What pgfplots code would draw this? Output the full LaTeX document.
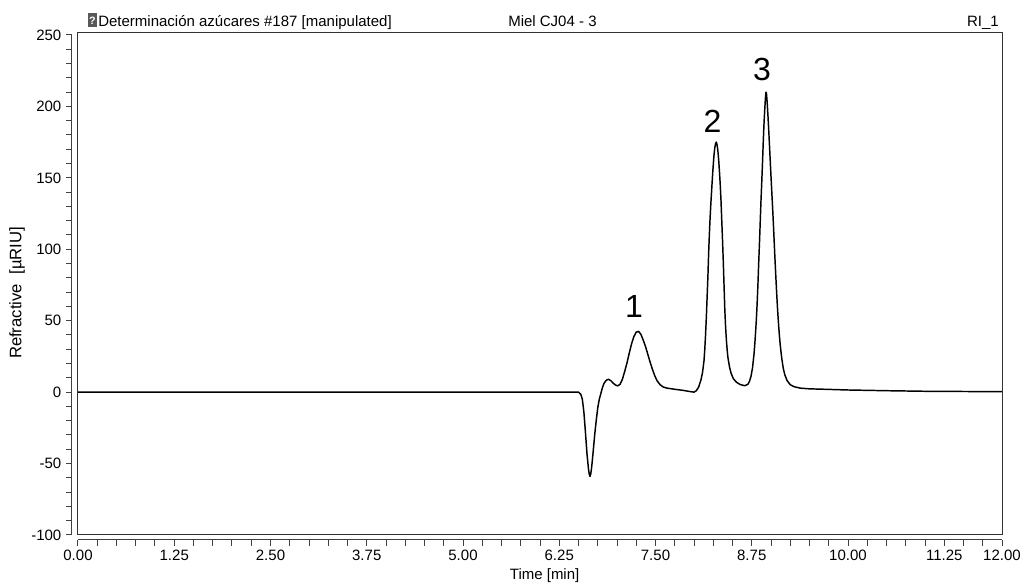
\documentclass[border=0pt]{standalone}
\usepackage{pgfplots}
\pgfplotsset{compat=1.18}
\usepackage{fontspec}
\setmainfont{Liberation Sans}

\begin{document}
\begin{tikzpicture}
\begin{axis}[
  at={(0,0)}, anchor=south west,
  scale only axis, width=693pt, height=375pt,
  xmin=0, xmax=12, ymin=-100, ymax=250,
  axis lines*=left,
  axis x line shift=3.4pt, axis y line shift=4.5pt,
  axis line style={black!75, line width=0.75pt},
  tick align=outside,
  major tick length=4.5pt, minor tick length=4.5pt,
  tick style={black!75, line width=0.75pt},
  xtick={0,1.25,2.5,3.75,5,6.25,7.5,8.75,10,11.25,12},
  minor xtick={0,0.25,...,12},
  ytick={-100,-50,...,250}, minor y tick num=4,
  xticklabel style={/pgf/number format/.cd, fixed, fixed zerofill, precision=2},
  yticklabel style={/pgf/number format/fixed},
  /pgf/number format/assume math mode=true,
  ticklabel style={font=\fontsize{11.25}{13}\selectfont},
  xlabel={Time [min]},
  ylabel={Refractive\hspace{7pt}[µRIU]},
  xlabel style={font=\fontsize{11.25}{13}\selectfont, at={(axis description cs:0.505,-0.09)}, anchor=base},
  ylabel style={font=\fontsize{12.5}{14}\selectfont, at={(axis description cs:-0.066,0.484)}, anchor=center},
  clip=false,
]
\addplot[black, line width=1.1pt, line join=round] coordinates {
(0,0) (3,0) (6,0) (6.45,0) (6.50,0) (6.53,-1.5) (6.55,-5) (6.57,-14) (6.59,-28)
(6.61,-43) (6.63,-54) (6.64,-57.5) (6.65,-59) (6.66,-57) (6.67,-53) (6.69,-42) (6.71,-30) (6.73,-20)
(6.75,-11) (6.77,-5) (6.79,-1) (6.81,3) (6.83,6) (6.86,8.3) (6.89,9) (6.92,8)
(6.95,6.3) (6.98,5) (7.01,4.4) (7.04,5.5) (7.07,9) (7.10,14.5) (7.13,20.5)
(7.16,27.5) (7.19,34) (7.22,39) (7.25,42) (7.28,42.5) (7.31,40.5) (7.34,36.5)
(7.37,32) (7.40,26.5) (7.43,21) (7.46,16) (7.49,11.5) (7.52,8) (7.56,5.2)
(7.60,3.6) (7.65,2.8) (7.75,2.0) (7.85,1.3) (7.95,0.4) (8.00,0) (8.03,1)
(8.06,3.5) (8.09,8.5) (8.11,13.5) (8.13,22) (8.14,30) (8.15,40) (8.16,52)
(8.17,66) (8.18,80) (8.19,97) (8.20,111) (8.21,123) (8.22,133) (8.23,142)
(8.24,151) (8.25,159) (8.26,166) (8.27,171) (8.28,174) (8.29,175) (8.30,173)
(8.31,169) (8.32,163) (8.33,155) (8.34,146) (8.35,135) (8.36,121) (8.37,107)
(8.38,92) (8.39,75) (8.40,58) (8.41,46) (8.42,37) (8.43,30) (8.44,24.5)
(8.46,18) (8.48,13.5) (8.51,9.5) (8.55,7) (8.60,5.3) (8.66,4.5) (8.70,5.5)
(8.72,7.5) (8.74,11) (8.76,17) (8.78,27) (8.79,34) (8.80,42) (8.81,51)
(8.82,62) (8.83,75) (8.84,90) (8.85,104) (8.86,119) (8.87,134) (8.88,147)
(8.89,161) (8.90,176) (8.91,189) (8.92,199) (8.928,206) (8.935,210) (8.942,208.5) (8.95,203) (8.96,194)
(8.97,184) (8.98,173) (8.99,162) (9.00,151) (9.01,140.5) (9.02,130) (9.03,119)
(9.04,107) (9.05,95) (9.06,84) (9.07,73) (9.08,63) (9.09,54) (9.10,46)
(9.11,39) (9.12,33) (9.14,23.5) (9.16,16.5) (9.18,12) (9.21,8) (9.25,5.2)
(9.30,3.8) (9.38,2.8) (9.50,2.3) (9.70,2.0) (10.0,1.5) (10.5,1.0) (11.0,0.6)
(12,0.3)
};
\draw[black!80, line width=0.75pt] (rel axis cs:0,0) rectangle ([yshift=1.5pt]rel axis cs:1,1);
\node[font=\fontsize{24}{28}\selectfont] at (axis cs:7.22,60) {1};
\node[font=\fontsize{24}{28}\selectfont] at (axis cs:8.24,189.7) {2};
\node[font=\fontsize{24}{28}\selectfont] at (axis cs:8.883,226) {3};
\fill[black!65] ([xshift=7.5pt,yshift=6pt]rel axis cs:0,1) rectangle ++(6.5pt,10.5pt);
\node[text=white, font=\fontsize{8}{9}\selectfont\bfseries, inner sep=0pt] at ([xshift=10.75pt,yshift=10.8pt]rel axis cs:0,1) {?};
\node[anchor=base west, font=\fontsize{11.25}{13}\selectfont, inner sep=0pt] at ([xshift=15pt,yshift=6.4pt]rel axis cs:0,1) {Determinación azúcares \#187 [manipulated]};
\node[anchor=base west, font=\fontsize{11.25}{13}\selectfont, inner sep=0pt] at ([xshift=322.5pt,yshift=6.4pt]rel axis cs:0,1) {Miel CJ04 - 3};
\node[anchor=base east, font=\fontsize{11.25}{13}\selectfont, inner sep=0pt] at ([xshift=-2.25pt,yshift=6.4pt]rel axis cs:1,1) {RI\_1};
\end{axis}
\pgfresetboundingbox
\path (-58.5pt,-36.75pt) rectangle (716.25pt,401.25pt);
\end{tikzpicture}
\end{document}
